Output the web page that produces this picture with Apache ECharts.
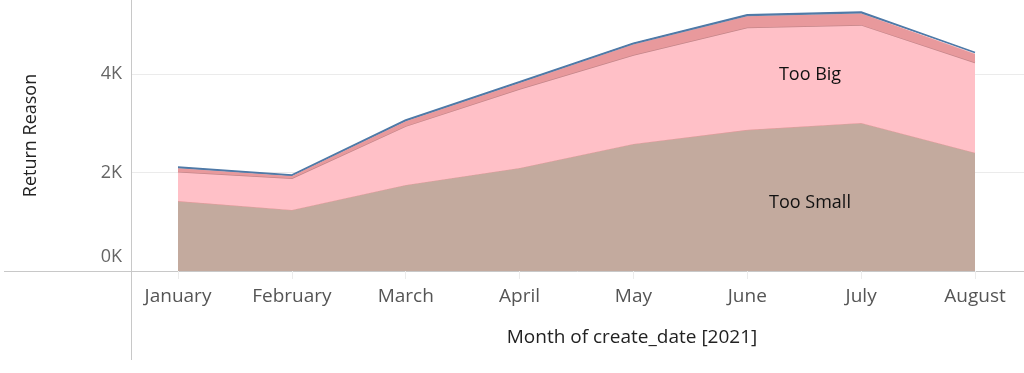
<!DOCTYPE html>
<html><head><meta charset="utf-8">
<script src="https://cdn.jsdelivr.net/npm/echarts@6/dist/echarts.min.js"></script>
<style>html,body{margin:0;padding:0;background:#fff}#c{width:1024px;height:373px}</style>
</head><body><div id="c"></div>
<script>
const months = ['January','February','March','April','May','June','July','August'];
const tooSmall = [1420, 1240, 1745, 2090, 2580, 2865, 3005, 2400];
const tooBig   = [595, 640, 1195, 1605, 1805, 2075, 1990, 1830];
const other    = [70, 50, 100, 120, 210, 230, 230, 175];
const other2   = [25, 20, 25, 25, 30, 30, 30, 28];
const yMin = 0, yMax = 5500, yStep = 2000;
const xTitle = 'Month of create_date [2021]';
const yTitle = 'Return Reason';

const FONT = 'Open Sans';
const chart = echarts.init(document.getElementById('c'), null, {renderer: 'canvas'});

function area(name, data, fill, lineColor, lineWidth, z) {
  return {
    name, type: 'line', stack: 'total', xAxisIndex: 1, yAxisIndex: 1,
    data, symbol: 'none', smooth: false, z,
    lineStyle: {color: lineColor, width: lineWidth},
    areaStyle: {color: fill, opacity: 1},
    emphasis: {disabled: true}
  };
}

const option = {
  animation: false,
  grid: [
    {left: 131, right: 0, top: 0, bottom: 102},
    {left: 178, right: 49, top: 0, bottom: 102}
  ],
  xAxis: [
    {gridIndex: 0, type: 'value', min: 0, max: 1,
     axisLine: {show: true, lineStyle: {color: '#c8c8c8', width: 1}},
     axisTick: {show: false}, axisLabel: {show: false}, splitLine: {show: false}},
    {gridIndex: 1, type: 'category', data: months, boundaryGap: false,
     axisLine: {show: false},
     axisTick: {show: true, length: 8, lineStyle: {color: '#ececec'}},
     axisLabel: {fontFamily: FONT, fontSize: 19, color: '#555', margin: 16},
     splitLine: {show: false}}
  ],
  yAxis: [
    {gridIndex: 0, type: 'value', min: yMin, max: yMax, interval: yStep,
     axisLine: {show: true, lineStyle: {color: '#c8c8c8', width: 1}},
     axisTick: {show: false},
     splitLine: {show: true, showMinLine: false, showMaxLine: false, lineStyle: {color: '#ebebeb', width: 1}},
     axisLabel: {
       showMaxLabel: false, margin: 9,
       fontFamily: FONT, fontSize: 18, color: '#666',
       formatter: v => v === 0 ? '{z|0K}' : (v / 1000) + 'K',
       rich: {z: {fontFamily: FONT, fontSize: 18, color: '#666', padding: [0, 0, 28, 0]}}
     },
     name: yTitle, nameLocation: 'middle', nameGap: 91,
     nameTextStyle: {fontFamily: FONT, fontSize: 18, color: '#222'}},
    {gridIndex: 1, type: 'value', min: yMin, max: yMax, show: false}
  ],
  series: [
    area('Too Small', tooSmall, '#c3aa9e', '#e39c9c', 1.2, 2),
    area('Too Big', tooBig, '#ffc0c7', '#c4868a', 1.5, 3),
    area('Other', other, '#e8999c', '#e8999c', 0.5, 4),
    area('Other 2', other2, '#5a7fa8', '#4e79a7', 1.5, 5)
  ],
  graphic: [
    {type: 'line', shape: {x1: 4, y1: 271.5, x2: 131, y2: 271.5}, style: {stroke: '#c8c8c8', lineWidth: 1}, silent: true},
    {type: 'line', shape: {x1: 131.5, y1: 271, x2: 131.5, y2: 360}, style: {stroke: '#c8c8c8', lineWidth: 1}, silent: true},
    {type: 'text', x: 632, y: 338, style: {text: xTitle, fontFamily: FONT, fontSize: 19, fill: '#222', align: 'center', verticalAlign: 'middle'}, silent: true},
    {type: 'text', x: 810, y: 75, z: 10, style: {text: 'Too Big', fontFamily: FONT, fontSize: 18, fill: '#111', align: 'center', verticalAlign: 'middle'}, silent: true},
    {type: 'text', x: 810, y: 203, z: 10, style: {text: 'Too Small', fontFamily: FONT, fontSize: 18, fill: '#111', align: 'center', verticalAlign: 'middle'}, silent: true}
  ]
};
chart.setOption(option);
</script>
</body></html>
